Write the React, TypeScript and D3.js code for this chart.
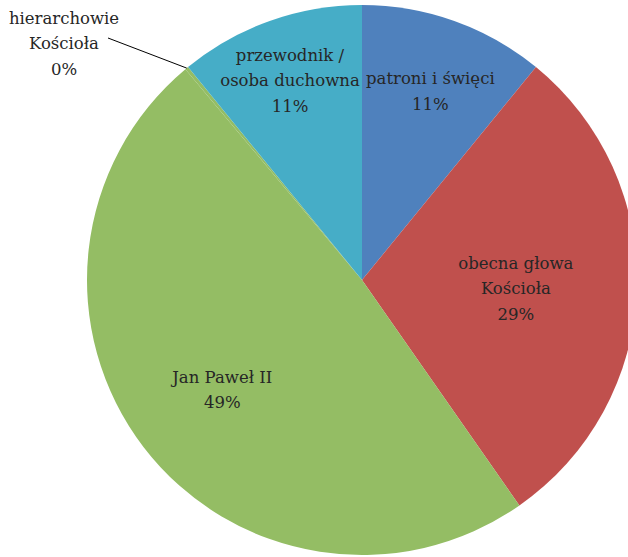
import React from "react";
import * as d3 from "d3";

const categories = [
  ["patroni i święci"],
  ["obecna głowa", "Kościoła"],
  ["Jan Paweł II"],
  ["hierarchowie", "Kościoła"],
  ["przewodnik /", "osoba duchowna"],
];
const values = [10.9, 29.4, 48.6, 0.2, 10.9];
const colors = ["#4f81bd", "#c0504d", "#94bd64", "#94bd64", "#46adc7"];

const W = 628;
const H = 557;
const CX = 362;
const CY = 280;
const R = 275;
// label radius fraction per slice (layout)
const labelR = [0.74, 0.56, 0.64, 0, 0.78];
const LINE = 25.5;
const FONT = "'DejaVu Serif', serif";

export default function App() {
  const pie = d3.pie<number>().sort(null).value((d) => d)(values);
  const arc = d3.arc<d3.PieArcDatum<number>>().innerRadius(0).outerRadius(R);
  const total = d3.sum(values);
  const textStyle = { fontFamily: FONT, fontSize: 16.5 } as React.CSSProperties;

  return (
    <svg
      width={W}
      height={H}
      style={{ position: "absolute", left: 0, top: 0, background: "#fff" }}
    >
      <g transform={`translate(${CX},${CY})`}>
        {pie.map((p, i) => (
          <path key={i} d={arc(p) || ""} fill={colors[i]} />
        ))}
        {pie.map((p, i) => {
          const pct = Math.round((values[i] / total) * 100) + "%";
          const lines = [...categories[i], pct];
          const mid = (p.startAngle + p.endAngle) / 2;
          if (labelR[i] === 0) {
            const x0 = R * Math.sin(mid);
            const y0 = -R * Math.cos(mid);
            const lx = 108 - CX;
            const ly = 38 - CY;
            return (
              <g key={"l" + i}>
                <line x1={x0} y1={y0} x2={lx} y2={ly} stroke="#000" strokeWidth={1} />
                {lines.map((t, j) => (
                  <text
                    key={j}
                    x={64 - CX}
                    y={18 - CY + j * LINE}
                    textAnchor="middle"
                    dominantBaseline="central"
                    fill="#262626"
                    style={textStyle}
                  >
                    {t}
                  </text>
                ))}
              </g>
            );
          }
          const r = R * labelR[i];
          const x = r * Math.sin(mid);
          const y = -r * Math.cos(mid) + 3;
          const y0 = y - ((lines.length - 1) * LINE) / 2;
          return (
            <g key={"l" + i}>
              {lines.map((t, j) => (
                <text
                  key={j}
                  x={x}
                  y={y0 + j * LINE}
                  textAnchor="middle"
                  dominantBaseline="central"
                  fill="#262626"
                  style={textStyle}
                >
                  {t}
                </text>
              ))}
            </g>
          );
        })}
      </g>
    </svg>
  );
}
